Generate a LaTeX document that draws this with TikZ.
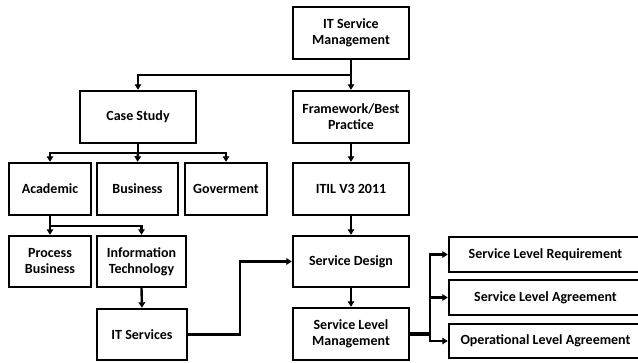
\documentclass[tikz,border=0pt]{standalone}
\usepackage{fontspec}
\setmainfont{Carlito}
\usetikzlibrary{arrows.meta}
\begin{document}
\begin{tikzpicture}[x=1pt,y=-1pt,
  box/.style={draw,line width=2.4pt,fill=white,align=center,inner sep=0pt,
    font=\fontsize{14}{16}\selectfont\bfseries},
  link/.style={line width=2.4pt},
  arr/.style={line width=2.4pt,-{Triangle[length=5.5pt,width=6.5pt]}}]
\clip (0,0) rectangle (638,362);
\useasboundingbox (0,0) rectangle (638,362);
\fill[white] (0,0) rectangle (638,362);

% main spine
\node[box,minimum width=116pt,minimum height=52pt] (itsm) at (351,33) {IT Service\\Management};
\node[box,minimum width=116pt,minimum height=52pt] (fw) at (351,117) {Framework/Best\\Practice};
\node[box,minimum width=116pt,minimum height=52pt] (itil) at (351,189) {ITIL V3 2011};
\node[box,minimum width=116pt,minimum height=51pt] (sd) at (351,261.5) {Service Design};
\node[box,minimum width=116pt,minimum height=52pt] (slm) at (351,334) {Service Level\\Management};

% case study branch
\node[box,minimum width=116pt,minimum height=52pt] (case) at (138,117) {Case Study};
\node[box,minimum width=82pt,minimum height=52pt] (acad) at (50,189) {Academic};
\node[box,minimum width=81pt,minimum height=52pt] (bus) at (137.5,189) {Business};
\node[box,minimum width=82pt,minimum height=52pt] (gov) at (226,189) {Goverment};
\node[box,minimum width=82pt,minimum height=51pt] (proc) at (50,261.5) {Process\\Business};
\node[box,minimum width=89pt,minimum height=51pt] (info) at (141.5,261.5) {Information\\Technology};
\node[box,minimum width=90pt,minimum height=51pt] (its) at (142,334.5) {IT Services};

% service level documents
\node[box,minimum width=193pt,minimum height=35pt] (slr) at (545.5,254.5) {Service Level Requirement};
\node[box,minimum width=193pt,minimum height=35pt] (sla) at (545.5,297.5) {Service Level Agreement};
\node[box,minimum width=193pt,minimum height=34pt] (ola) at (545.5,341) {Operational Level Agreement};

% junction points
\coordinate (j1) at (351,75);
\coordinate (j2) at (138,153);
\coordinate (j3) at (50,226);
\coordinate (j4) at (240,334.5);
\coordinate (j5) at (430,334);

% connectors
\draw[arr] (itsm.south) -- (fw.north);
\draw[arr] (j1) -| (case.north);
\draw[arr] (fw.south) -- (itil.north);
\draw[arr] (itil.south) -- (sd.north);
\draw[arr] (sd.south) -- (slm.north);

\draw[link] (case.south) -- (j2);
\draw[arr] (j2) -| (acad.north);
\draw[arr] (j2) -- (bus.north);
\draw[arr] (j2) -| (gov.north);

\draw[link] (acad.south) -- (j3);
\draw[arr] (j3) -- (proc.north);
\draw[arr] (j3) -| (info.north);

\draw[arr] (info.south) -- (its.north);
\draw[arr] (its.east) -- (j4) |- (sd.west);

\draw[line width=3.2pt] (slm.east) -- (j5);
\draw[arr] (j5) |- (slr.west);
\draw[arr] (j5) |- (sla.west);
\draw[arr] (j5) |- (ola.west);
\end{tikzpicture}
\end{document}
